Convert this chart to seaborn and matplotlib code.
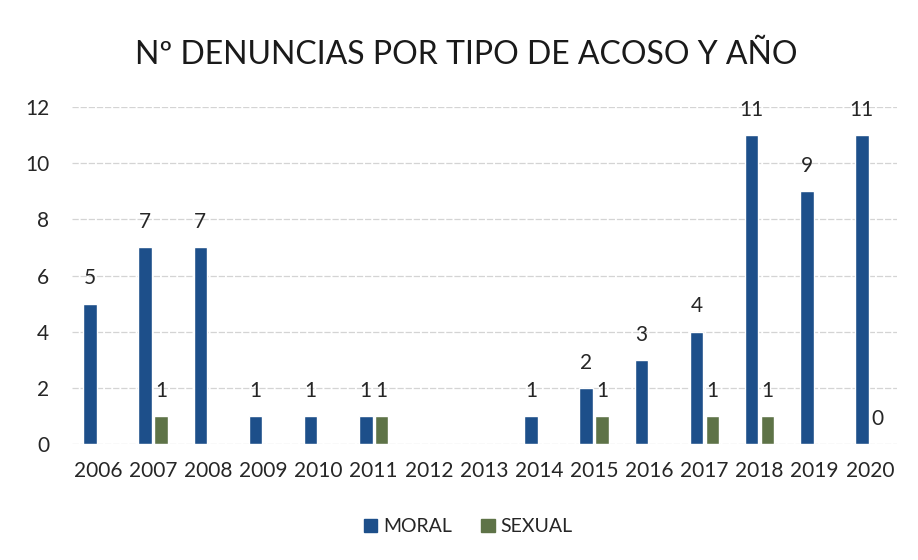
import numpy as np
import pandas as pd
import matplotlib
matplotlib.use("Agg")
import matplotlib.pyplot as plt
import seaborn as sns
from matplotlib.patches import Patch

years = ["2006", "2007", "2008", "2009", "2010", "2011", "2012", "2013",
         "2014", "2015", "2016", "2017", "2018", "2019", "2020"]
moral = [5, 7, 7, 1, 1, 1, np.nan, np.nan, 1, 2, 3, 4, 11, 9, 11]
sexual = [np.nan, 1, np.nan, np.nan, np.nan, 1, np.nan, np.nan,
          np.nan, 1, np.nan, 1, 1, np.nan, 0]
series = ["MORAL", "SEXUAL"]
colors = ["#1d4f8a", "#5e7347"]
title = "Nº DENUNCIAS POR TIPO DE ACOSO Y AÑO"

df = pd.DataFrame({
    "year": years * 2,
    "tipo": [series[0]] * len(years) + [series[1]] * len(years),
    "value": moral + sexual,
})

sns.set_theme(style="white")
plt.rcParams["font.family"] = ["Lato", "DejaVu Sans"]

fig = plt.figure(figsize=(9.18, 5.6), dpi=100)
ax = fig.add_axes([0.078, 0.207, 0.899, 0.602])

sns.barplot(data=df, x="year", y="value", hue="tipo", order=years,
            hue_order=series, palette=colors, width=0.58, gap=0.15,
            errorbar=None, saturation=1, ax=ax, legend=False)

for cont in ax.containers:
    vals = cont.datavalues
    labels = ["" if np.isnan(v) else f"{v:g}" for v in vals]
    ax.bar_label(cont, labels=labels, padding=11, fontsize=15, color="#262626")

ax.set_ylim(0, 12)
ax.set_xlim(-0.48, len(years) - 1 + 0.49)
ax.set_yticks(range(0, 13, 2))
ax.yaxis.grid(True, color="#d4d4d4", linewidth=0.9, linestyle=(0, (5, 1.5)))
ax.set_axisbelow(True)
for s in ax.spines.values():
    s.set_visible(False)
ax.set_xlabel("")
ax.set_ylabel("")
ax.tick_params(axis="x", labelsize=15, pad=12, length=0, colors="#262626")
ax.tick_params(axis="y", labelsize=15, pad=16, length=0, colors="#262626")

fig.text(0.508, 0.902, title, ha="center", va="center", fontsize=23, color="#1a1a1a")

handles = [Patch(facecolor=c, edgecolor=c) for c in colors]
fig.legend(handles, series, loc="center", bbox_to_anchor=(0.51, 0.059), ncol=2,
           frameon=False, fontsize=14, handlelength=0.7, handleheight=0.7,
           handletextpad=0.3, columnspacing=1.5, labelcolor="#262626")

fig.savefig("out.png", dpi=100, facecolor="white")
